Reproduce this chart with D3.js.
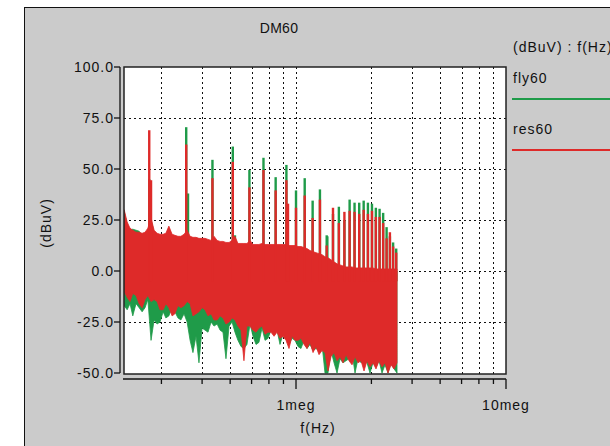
<!DOCTYPE html>
<html lang="en">
<head>
<meta charset="utf-8">
<title>DM60</title>
<style>
  body { margin: 0; background: #fff; }
  svg text { font-family: "Liberation Sans", Arial, sans-serif; fill: #111; font-size: 14px; letter-spacing: 1px; }
  .grid line { stroke: #111; stroke-width: 1; stroke-dasharray: 2,3; }
  .axis line, .axis path { stroke: #111; stroke-width: 1.3; fill: none; }
</style>
</head>
<body>
<svg width="610" height="446"></svg>
<script src="https://cdnjs.cloudflare.com/ajax/libs/d3/7.8.5/d3.min.js"></script>
<script>
// sample frequencies of the noise band (kHz)
var freqKHz = [152,157,162,167,173,179,185,191,197,204,211,218,225,233,240,248,257,265,274,283,
  293,303,313,323,334,345,357,369,381,394,407,421,435,449,464,480,496,512,529,547,
  565,584,604,624,645,666,689,712,736,760,786,812,839,867,896,926,957,989,1022,1056,
  1092,1128,1166,1205,1245,1287,1330,1374,1420,1468,1517,1568,1620,1674,1730,1788,1848,1910,1974,2040,
  2108,2178,2251,2326,2404,2485,2568,2654,2742,2834,2929,3027];

// res60 band: top and bottom of the noise floor (dBuV)
var resHigh = [30,24,21,20,19,19,18.5,19,21,26,20,18.5,18,18,18.5,22,18,17.5,17,17,
  18,20,17,16.5,16.5,16,16,16,15.5,15,17,15,14.5,14.5,14,14,15,17,13.5,13.5,
  13.5,13.5,15,13,13,13,13.5,13,13,13,13,13,13,13,13,12.5,12.5,12.5,12,12,
  11.5,11,10,9.5,9,8.5,8,7,6.5,5.5,4.5,3.5,3,2.5,2,2,2,1.5,1.5,1.5,
  1.5,1.5,1.5,1.5,1,1,1,1,1,1,1,1];
var resLow = [-10,-13,-15,-11,-12,-16,-18,-14,-12,-15,-14,-15,-19,-19,-16,-18,-22,-21,-17,-18,
  -17,-15,-16,-22,-21,-20,-18,-19,-22,-21,-24,-24,-22,-23,-26,-25,-23,-24,-27,-29,
  -44,-27,-27,-29,-30,-28,-27,-31,-30,-30,-32,-30,-33,-32,-34,-38,-32,-34,-34,-33,
  -36,-38,-35,-40,-37,-41,-39,-40,-49,-42,-40,-44,-42,-45,-41,-44,-46,-42,-45,-44,
  -49,-44,-47,-45,-48,-44,-47,-45,-50,-46,-48,-45];

// fly60 band
var flyHigh = [29,23,20,20.5,20,19.5,17.5,18,20,25,19,17.5,17,17,17.5,21,17,16.5,16,16,
  17,19,16,15.5,15.5,15,15,15,14.5,14,16,14,13.5,13.5,13,13,14,16,12.5,12.5,
  12.5,12.5,14,12,12,12,12.5,12,12,12,12,12,12,12,12,11.5,11.5,11.5,11,11,
  10.5,10,9,8.5,8,7.5,7,6,5.5,4.5,3.5,2.5,2,1.5,1,1,1,0.5,0.5,0.5,
  0.5,0.5,0.5,0.5,0,0,0,0,0,0,0,0];
var flyLow = [-17,-19,-16,-22,-16,-18,-20,-18,-14,-34,-24,-26,-25,-20,-23,-22,-18,-20,-23,-24,
  -21,-25,-34,-40,-32,-45,-28,-29,-30,-25,-27,-26,-29,-30,-43,-27,-25,-30,-34,-37,
  -38,-36,-26,-32,-36,-35,-28,-34,-33,-29,-30,-29,-36,-31,-32,-36,-33,-34,-37,-38,
  -34,-38,-36,-39,-38,-39,-36,-50,-50,-39,-45,-50,-43,-45,-44,-43,-40,-50,-43,-45,
  -44,-45,-50,-45,-47,-44,-50,-46,-50,-45,-48,-50];

// harmonic peaks (kHz) and their levels
var harmKHz = [200,300,400,500,600,700,800,900,1000,1100,1200,1300,1400,1500,1600,1700,1800,1900,2000,2100,
  2200,2300,2400,2500,2600,2700,2800,2900,3000];
var resPeak = [69,62,45.5,53.5,41,49.5,39.5,44.5,31,37,26,35,12.5,31,23.5,29,29.5,29,28,30,
  28,29.5,26.5,26.5,23.5,16,19,12,9];
var flyPeak = [45,70.5,54.5,61,49.5,55.5,46,52,39.5,45.5,34.5,40,17.5,28,31.5,25,35,33.5,33.5,34.5,
  33.5,33,31,30.5,28.5,21.5,17,14,11];
// small side peaks next to the harmonics
var resSideKHz = [204, 916];
var resSide = [44.5, 33];
var flySideKHz = [306, 512, 1410];
var flySide = [38, 17.5, 17];

var yTicks = [100, 75, 50, 25, 0, -25, -50];
var xMajor = [1e6, 1e7];
var xMajorLabels = ["1meg", "10meg"];
var xMinor = [228.6e3, 357.1e3, 485.7e3, 614.3e3, 742.9e3, 871.4e3,
  2.286e6, 3.571e6, 4.857e6, 6.143e6, 7.429e6, 8.714e6];

var green = "#1f9b49", red = "#de2a29";

var svg = d3.select("svg");
var pLeft = 124, pRight = 506, pTop = 67, pBottom = 374;

var x = d3.scaleLog().domain([150e3, 1e7]).range([123, 506]);
var y = d3.scaleLinear().domain([-50, 100]).range([373, 67]);

// outer grey panel
svg.append("rect").attr("x", 24.5).attr("y", 7.5).attr("width", 600).attr("height", 450)
  .attr("fill", "#cbcbcb").attr("stroke", "#111").attr("stroke-width", 1);

svg.append("text").attr("x", 279).attr("y", 33).attr("text-anchor", "middle")
  .style("letter-spacing", "0.3px").text("DM60");

// plot area
svg.append("rect").attr("x", pLeft).attr("y", pTop).attr("width", pRight - pLeft).attr("height", pBottom - pTop)
  .attr("fill", "#fff");

svg.append("clipPath").attr("id", "clip").append("rect")
  .attr("x", pLeft).attr("y", pTop).attr("width", pRight - pLeft).attr("height", pBottom - pTop);

var grid = svg.append("g").attr("class", "grid");
grid.selectAll(".h").data(yTicks.filter(function (d) { return d > -50 && d < 100; }))
  .enter().append("line")
  .attr("x1", pLeft).attr("x2", pRight)
  .attr("y1", function (d) { return Math.round(y(d)) + 0.5; })
  .attr("y2", function (d) { return Math.round(y(d)) + 0.5; });
grid.selectAll(".v").data(xMinor.concat([1e6]))
  .enter().append("line")
  .attr("y1", pTop).attr("y2", pBottom)
  .attr("x1", function (d) { return Math.round(x(d)) + 0.5; })
  .attr("x2", function (d) { return Math.round(x(d)) + 0.5; });

var plot = svg.append("g").attr("clip-path", "url(#clip)");

function band(hi, lo) {
  var pts = freqKHz.map(function (f, i) { return { f: f * 1e3, hi: hi[i], lo: lo[i] }; });
  return d3.area()
    .x(function (d) { return x(d.f); })
    .y0(function (d) { return y(d.lo); })
    .y1(function (d) { return y(d.hi); })(pts);
}

function spikes(g, freqs, levels, color) {
  g.selectAll(null).data(freqs).enter().append("line")
    .attr("x1", function (d) { return x(d * 1e3); })
    .attr("x2", function (d) { return x(d * 1e3); })
    .attr("y1", y(-5))
    .attr("y2", function (d, i) { return y(levels[i]); })
    .attr("stroke", color).attr("stroke-width", 2.4);
}

// fly60 under res60
plot.append("path").attr("d", band(flyHigh, flyLow)).attr("fill", green)
  .attr("stroke", green).attr("stroke-width", 0.8);
spikes(plot.append("g"), harmKHz, flyPeak, green);
spikes(plot.append("g"), flySideKHz, flySide, green);

plot.append("path").attr("d", band(resHigh, resLow)).attr("fill", red)
  .attr("stroke", red).attr("stroke-width", 0.8);
spikes(plot.append("g"), harmKHz, resPeak, red);
spikes(plot.append("g"), resSideKHz, resSide, red);

// frame
svg.append("rect").attr("x", pLeft).attr("y", pTop).attr("width", pRight - pLeft).attr("height", pBottom - pTop)
  .attr("fill", "none").attr("stroke", "#222").attr("stroke-width", 1.5);

// y axis
var yAxis = svg.append("g").attr("class", "axis");
yAxis.append("line").attr("x1", 120).attr("x2", 120).attr("y1", y(100)).attr("y2", y(-50));
yAxis.selectAll(".t").data(yTicks).enter().append("line")
  .attr("x1", 114).attr("x2", 120)
  .attr("y1", function (d) { return y(d); }).attr("y2", function (d) { return y(d); });
yAxis.selectAll("text").data(yTicks).enter().append("text")
  .attr("x", 114).attr("y", function (d) { return y(d) + 5; })
  .attr("text-anchor", "end")
  .text(function (d) { return d.toFixed(1); });

svg.append("text").attr("transform", "translate(51,223) rotate(-90)")
  .attr("text-anchor", "middle").text("(dBuV)");

// x axis
var xAxis = svg.append("g").attr("class", "axis");
xAxis.append("line").attr("x1", 123).attr("x2", 506).attr("y1", 379).attr("y2", 379);
xAxis.selectAll(".mn").data(xMinor).enter().append("line")
  .attr("x1", function (d) { return x(d); }).attr("x2", function (d) { return x(d); })
  .attr("y1", 379).attr("y2", 384);
xAxis.selectAll(".mj").data(xMajor).enter().append("line")
  .attr("x1", function (d) { return x(d); }).attr("x2", function (d) { return x(d); })
  .attr("y1", 379).attr("y2", 389);
xAxis.selectAll("text").data(xMajor).enter().append("text")
  .attr("x", function (d) { return x(d); }).attr("y", 410)
  .attr("text-anchor", "middle")
  .text(function (d, i) { return xMajorLabels[i]; });

svg.append("text").attr("x", 318).attr("y", 433).attr("text-anchor", "middle").text("f(Hz)");

// legend
svg.append("text").attr("x", 513).attr("y", 52).text("(dBuV) : f(Hz)");
var legend = [{ name: "fly60", color: green, y: 83 }, { name: "res60", color: red, y: 134 }];
legend.forEach(function (l) {
  svg.append("text").attr("x", 513).attr("y", l.y).text(l.name);
  svg.append("line").attr("x1", 512).attr("x2", 610).attr("y1", l.y + 16).attr("y2", l.y + 16)
    .attr("stroke", l.color).attr("stroke-width", 2);
});
</script>
</body>
</html>
